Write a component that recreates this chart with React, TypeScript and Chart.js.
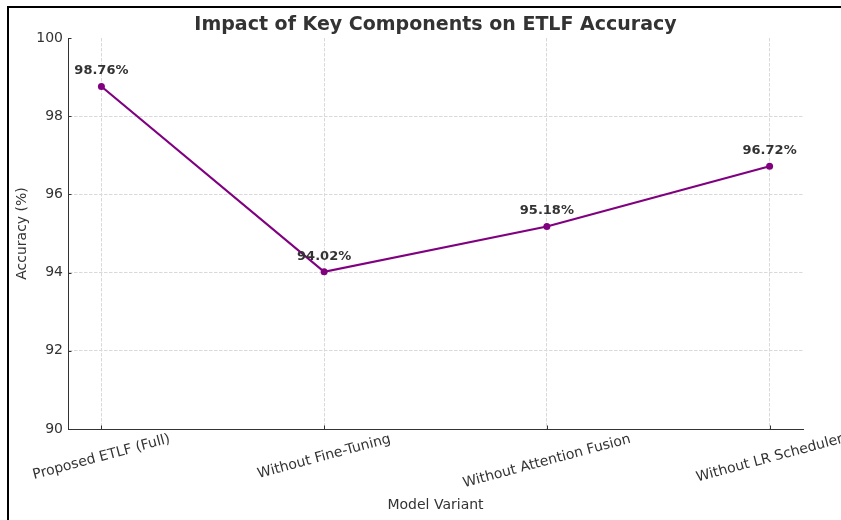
import React, { useEffect, useRef } from "react";
import { Chart, registerables } from "chart.js";

Chart.register(...registerables);

const categories = [
  "Proposed ETLF (Full)",
  "Without Fine-Tuning",
  "Without Attention Fusion",
  "Without LR Scheduler",
];
const accuracy = [98.76, 94.02, 95.18, 96.72];
const yTicks = [90, 92, 94, 96, 98, 100];

const FAMILY = "'DejaVu Sans', sans-serif";
const TEXT = "#333333";
const PURPLE = "#800080";
const GRID = "#d9d9d9";
const AXIS = "#333333";

const overlayPlugin = {
  id: "overlay",
  afterDatasetsDraw(chart: any) {
    const ctx = chart.ctx;
    const meta = chart.getDatasetMeta(0);
    ctx.save();
    ctx.font = `bold 13px ${FAMILY}`;
    ctx.fillStyle = TEXT;
    ctx.textAlign = "center";
    ctx.textBaseline = "alphabetic";
    meta.data.forEach((pt: any, i: number) => {
      ctx.fillText(`${accuracy[i].toFixed(2)}%`, pt.x, pt.y - 12);
    });
    ctx.restore();
  },
  afterDraw(chart: any) {
    const ctx = chart.ctx;
    const xs = chart.scales.x;
    const ys = chart.scales.y;
    const area = chart.chartArea;
    ctx.save();
    // inward tick marks
    ctx.strokeStyle = AXIS;
    ctx.lineWidth = 1;
    ctx.beginPath();
    yTicks.forEach((v) => {
      const py = Math.round(ys.getPixelForValue(v)) + 0.5;
      ctx.moveTo(area.left, py);
      ctx.lineTo(area.left + 3.5, py);
    });
    categories.forEach((_, i) => {
      const px = Math.round(xs.getPixelForValue(i)) + 0.5;
      ctx.moveTo(px, area.bottom);
      ctx.lineTo(px, area.bottom - 3.5);
    });
    ctx.stroke();
    // rotated x tick labels, centred on the tick
    ctx.font = `14px ${FAMILY}`;
    ctx.fillStyle = TEXT;
    ctx.textAlign = "center";
    ctx.textBaseline = "middle";
    const ang = (15 * Math.PI) / 180;
    categories.forEach((label, i) => {
      const px = xs.getPixelForValue(i);
      const w = ctx.measureText(label).width;
      const h = 16.3;
      const H = w * Math.sin(ang) + h * Math.cos(ang);
      const cy = area.bottom + 2 + H / 2;
      ctx.save();
      ctx.translate(px, cy);
      ctx.rotate(-ang);
      ctx.fillText(label, 0, 0);
      ctx.restore();
    });
    // image frame (top and left edges)
    ctx.fillStyle = "#000";
    ctx.fillRect(7, 6, chart.width - 7, 2);
    ctx.fillRect(7, 6, 2, chart.height - 6);
    ctx.restore();
  },
};

export default function App() {
  const ref = useRef<HTMLCanvasElement | null>(null);

  useEffect(() => {
    if (!ref.current) return;
    const chart = new Chart(ref.current, {
      type: "line",
      data: {
        datasets: [
          {
            data: accuracy.map((v, i) => ({ x: i, y: v })),
            borderColor: PURPLE,
            backgroundColor: PURPLE,
            borderWidth: 2.2,
            pointRadius: 3.5,
            pointBackgroundColor: PURPLE,
            pointBorderWidth: 0,
            tension: 0,
          },
        ],
      },
      options: {
        responsive: false,
        animation: false,
        layout: { padding: { top: 0, right: 38, left: 0, bottom: 0 } },
        plugins: {
          legend: { display: false },
          tooltip: { enabled: false },
          title: {
            display: true,
            text: "Impact of Key Components on ETLF Accuracy",
            fullSize: false,
            color: TEXT,
            font: { family: FAMILY, size: 19, weight: "bold" },
            lineHeight: 1.2,
            padding: { top: 13.5, bottom: 1.7 },
          },
        },
        scales: {
          x: {
            type: "linear",
            min: -0.15,
            max: 3.15,
            afterFit: (s: any) => {
              s.height = 91;
            },
            ticks: { display: false, stepSize: 1, includeBounds: false },
            grid: { color: GRID, lineWidth: 1, drawTicks: false },
            border: { color: AXIS, width: 1, dash: [3.5, 1.5] },
            title: {
              display: true,
              text: "Model Variant",
              color: TEXT,
              font: { family: FAMILY, size: 14 },
              padding: { top: 0, bottom: 6.6 },
            },
          },
          y: {
            min: 90,
            max: 100,
            afterFit: (s: any) => {
              s.width = 68;
            },
            ticks: {
              stepSize: 2,
              color: TEXT,
              font: { family: FAMILY, size: 14 },
              padding: 5,
            },
            grid: {
              color: (c: any) => (c.tick && c.tick.value === 100 ? "rgba(0,0,0,0)" : GRID),
              lineWidth: 1,
              drawTicks: false,
            },
            border: { color: AXIS, width: 1, dash: [3.5, 1.5] },
            title: {
              display: true,
              text: "Accuracy (%)",
              color: TEXT,
              font: { family: FAMILY, size: 14 },
              padding: { top: 14, bottom: 0 },
            },
          },
        },
      } as any,
      plugins: [overlayPlugin],
    });
    return () => chart.destroy();
  }, []);

  return (
    <div style={{ position: "fixed", left: 0, top: 0, width: 841, height: 520, background: "#fff" }}>
      <canvas ref={ref} width={841} height={520} style={{ display: "block" }} />
    </div>
  );
}
